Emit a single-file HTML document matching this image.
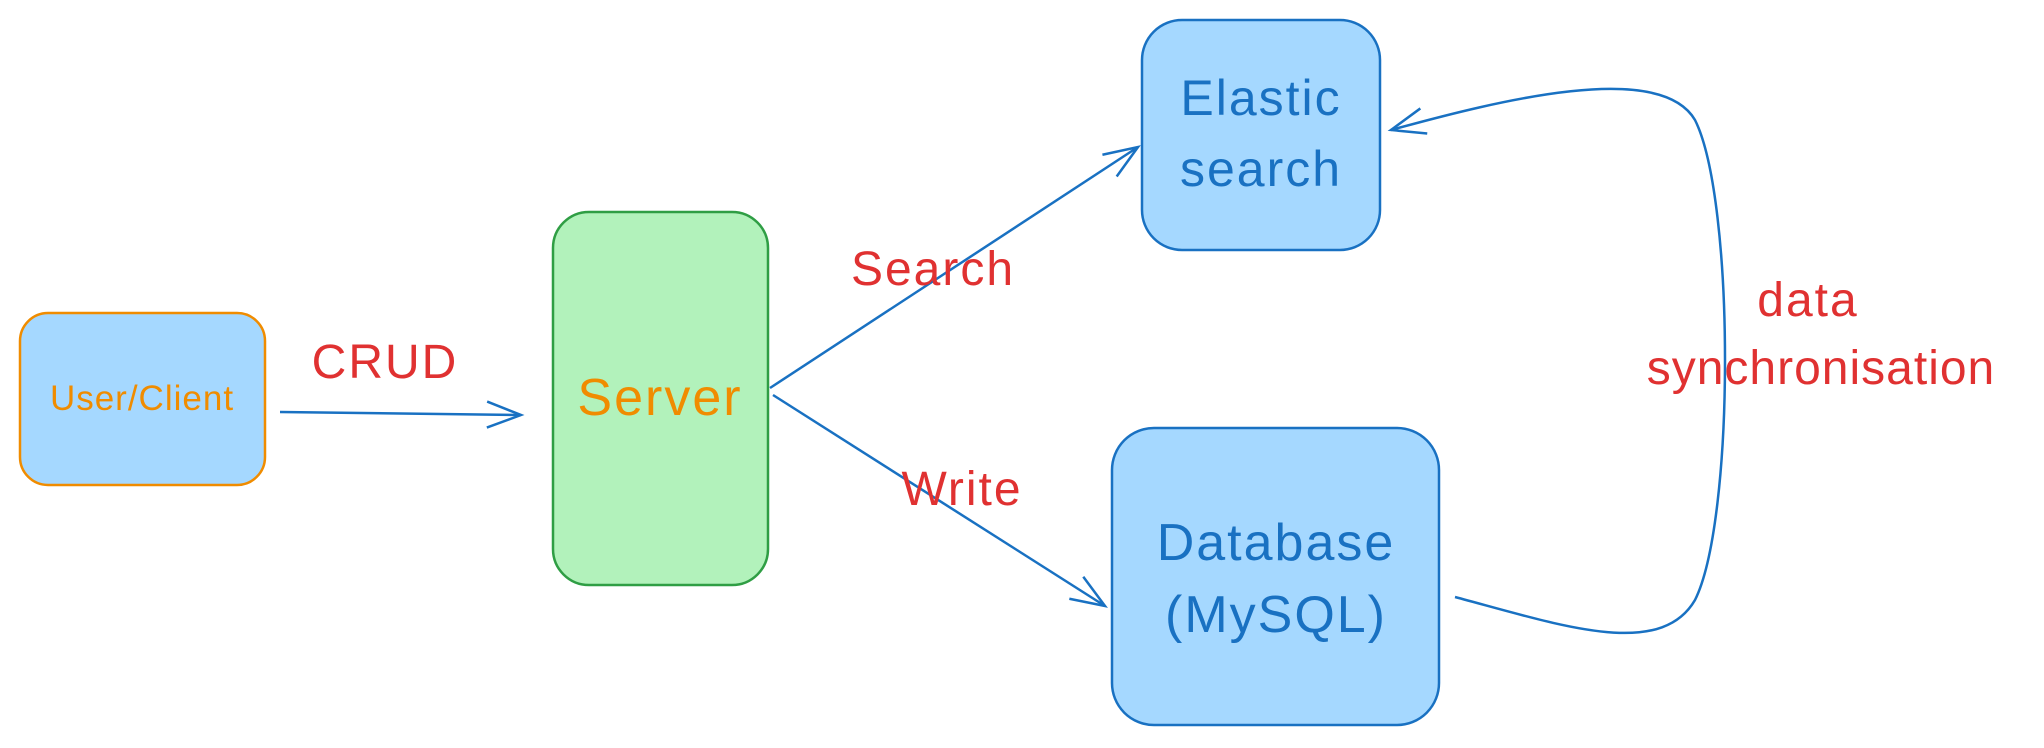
<!DOCTYPE html>
<html><head><meta charset="utf-8"><style>
body{margin:0;background:#fff;}
svg{display:block}
text{font-family:"Liberation Sans",sans-serif;}
</style></head><body>
<svg width="2044" height="748" viewBox="0 0 2044 748" xmlns="http://www.w3.org/2000/svg">
<defs>
<marker id="a" markerWidth="40" markerHeight="30" refX="36" refY="15" orient="auto" markerUnits="userSpaceOnUse">
<path d="M2,2 L36,15 L2,28" fill="none" stroke="#1971c2" stroke-width="2.5"/>
</marker>
</defs>
<rect x="20" y="313" width="245" height="172" rx="28" fill="#a5d8ff" stroke="#f08c00" stroke-width="2.5"/>
<text x="142" y="410" font-size="35" fill="#f08c00" text-anchor="middle" letter-spacing="1">User/Client</text>
<rect x="553" y="212" width="215" height="373" rx="36" fill="#b2f2bb" stroke="#2f9e44" stroke-width="2.5"/>
<text x="660" y="415" font-size="52" fill="#f08c00" text-anchor="middle" letter-spacing="2">Server</text>
<rect x="1142" y="20" width="238" height="230" rx="40" fill="#a5d8ff" stroke="#1971c2" stroke-width="2.5"/>
<text x="1261" y="115" font-size="50" fill="#1971c2" text-anchor="middle" letter-spacing="2">Elastic</text>
<text x="1261" y="186" font-size="50" fill="#1971c2" text-anchor="middle" letter-spacing="2">search</text>
<rect x="1112" y="428" width="327" height="297" rx="42" fill="#a5d8ff" stroke="#1971c2" stroke-width="2.5"/>
<text x="1276" y="560" font-size="52" fill="#1971c2" text-anchor="middle" letter-spacing="2">Database</text>
<text x="1276" y="632" font-size="52" fill="#1971c2" text-anchor="middle" letter-spacing="2">(MySQL)</text>
<line x1="280" y1="412" x2="521" y2="415" stroke="#1971c2" stroke-width="2.5" marker-end="url(#a)"/>
<text x="385" y="378" font-size="48" fill="#e03131" text-anchor="middle" letter-spacing="2">CRUD</text>
<line x1="770" y1="388" x2="1138" y2="147" stroke="#1971c2" stroke-width="2.5" marker-end="url(#a)"/>
<text x="933" y="285" font-size="48" fill="#e03131" text-anchor="middle" letter-spacing="2">Search</text>
<line x1="773" y1="395" x2="1105" y2="606" stroke="#1971c2" stroke-width="2.5" marker-end="url(#a)"/>
<text x="962" y="505" font-size="48" fill="#e03131" text-anchor="middle" letter-spacing="2">Write</text>
<path d="M1455,597 C1560,625 1660,660 1695,600 C1735,520 1735,200 1695,120 C1660,60 1500,100 1391,130" fill="none" stroke="#1971c2" stroke-width="2.5" marker-end="url(#a)"/>
<text x="1808" y="316" font-size="48" fill="#e03131" text-anchor="middle" letter-spacing="2">data</text>
<text x="1821" y="384" font-size="48" fill="#e03131" text-anchor="middle" letter-spacing="1">synchronisation</text>
</svg>
</body></html>
